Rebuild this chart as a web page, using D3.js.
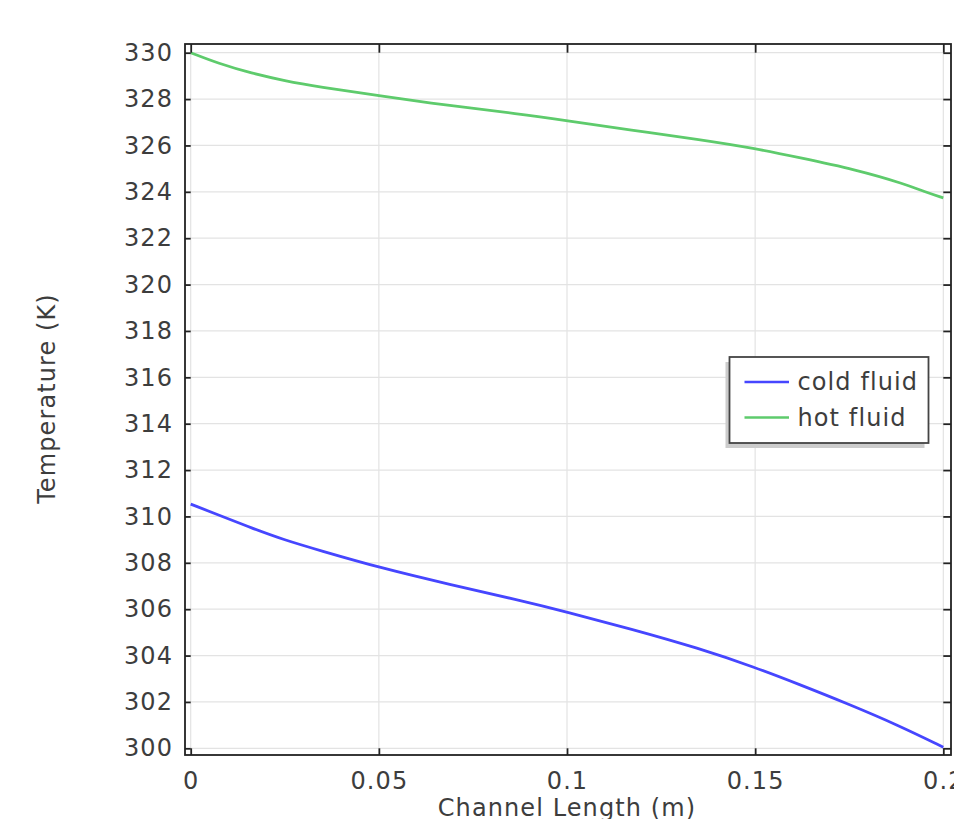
<!DOCTYPE html>
<html>
<head>
<meta charset="utf-8">
<script src="https://cdn.jsdelivr.net/npm/d3@7"></script>
<style>
  html, body { margin: 0; padding: 0; background: #fff; }
  svg { display: block; font-family: "DejaVu Sans", sans-serif; }
</style>
</head>
<body>
<svg id="chart" width="954" height="819"></svg>
<script>
// ---- data ----
const xTicks = [0, 0.05, 0.1, 0.15, 0.2];
const xTickLabels = ["0", "0.05", "0.1", "0.15", "0.2"];
const yTicks = [300, 302, 304, 306, 308, 310, 312, 314, 316, 318, 320, 322, 324, 326, 328, 330];

const hotX = [0, 0.0073, 0.0162, 0.025, 0.034, 0.05, 0.069, 0.087, 0.1, 0.117, 0.135, 0.15, 0.1615, 0.1765, 0.19, 0.195, 0.2];
const hotT = [330.0, 329.54, 329.11, 328.79, 328.53, 328.14, 327.71, 327.37, 327.07, 326.66, 326.26, 325.87, 325.48, 324.97, 324.33, 324.0, 323.74];

const coldX = [0, 0.0073, 0.0162, 0.025, 0.034, 0.05, 0.069, 0.087, 0.1, 0.117, 0.135, 0.15, 0.1615, 0.1748, 0.1881, 0.2];
const coldT = [310.53, 310.07, 309.5, 308.98, 308.55, 307.8, 307.06, 306.40, 305.88, 305.15, 304.32, 303.49, 302.77, 301.91, 300.99, 300.05];

const seriesNames = ["cold fluid", "hot fluid"];
const seriesColors = ["#4646ff", "#5ecb6c"];

// ---- layout ----
const frame = { left: 185, right: 951, top: 44, bottom: 755 };
const plot = { left: 190.7, right: 943.3, top: 52.7, bottom: 748.3 };
const textColor = "#3d3d3d";
const fontSize = 24;
const letterSp = 1.1;

const svg = d3.select("#chart");

const x = d3.scaleLinear().domain([0, 0.2]).range([plot.left, plot.right]);
const y = d3.scaleLinear().domain([300, 330]).range([plot.bottom, plot.top]);

// grid
const grid = svg.append("g").attr("stroke", "#e3e3e3").attr("stroke-width", 1.2);
grid.selectAll("line.v").data(xTicks).join("line")
  .attr("x1", d => x(d)).attr("x2", d => x(d))
  .attr("y1", plot.top).attr("y2", plot.bottom);
grid.selectAll("line.h").data(yTicks).join("line")
  .attr("x1", plot.left).attr("x2", plot.right)
  .attr("y1", d => y(d)).attr("y2", d => y(d));

// curves
const line = d3.line().x(d => x(d[0])).y(d => y(d[1])).curve(d3.curveBasis);
const coldData = coldX.map((v, i) => [v, coldT[i]]);
const hotData = hotX.map((v, i) => [v, hotT[i]]);
svg.append("path").datum(coldData).attr("d", line)
  .attr("fill", "none").attr("stroke", seriesColors[0]).attr("stroke-width", 2.8);
svg.append("path").datum(hotData).attr("d", line)
  .attr("fill", "none").attr("stroke", seriesColors[1]).attr("stroke-width", 2.8);

// axes
function styleAxis(g) {
  g.select(".domain").remove();
  g.selectAll(".tick line").attr("stroke", "#222").attr("stroke-width", 1.8);
  g.selectAll(".tick text").attr("fill", textColor).attr("font-size", fontSize)
    .attr("letter-spacing", letterSp)
    .attr("font-family", "DejaVu Sans, sans-serif");
}
const tl = plot.left - frame.left;
const tb = frame.bottom - plot.bottom;
const tt = plot.top - frame.top;
const tr = frame.right - plot.right;

svg.append("g").attr("transform", `translate(${frame.left},0)`)
  .call(d3.axisLeft(y).tickValues(yTicks).tickSizeInner(-tl).tickSizeOuter(0).tickPadding(12).tickFormat(d3.format("d")))
  .call(styleAxis);
svg.append("g").attr("transform", `translate(${frame.right},0)`)
  .call(d3.axisRight(y).tickValues(yTicks).tickSizeInner(-tr).tickSizeOuter(0).tickFormat(""))
  .call(styleAxis);
svg.append("g").attr("transform", `translate(0,${frame.bottom})`)
  .call(d3.axisBottom(x).tickValues(xTicks).tickSizeInner(-tb).tickSizeOuter(0).tickPadding(17)
    .tickFormat((d, i) => xTickLabels[i]))
  .call(styleAxis);
svg.append("g").attr("transform", `translate(0,${frame.top})`)
  .call(d3.axisTop(x).tickValues(xTicks).tickSizeInner(-tt).tickSizeOuter(0).tickFormat(""))
  .call(styleAxis);

// frame
svg.append("rect")
  .attr("x", frame.left).attr("y", frame.top)
  .attr("width", frame.right - frame.left).attr("height", frame.bottom - frame.top)
  .attr("fill", "none").attr("stroke", "#222").attr("stroke-width", 1.8);

// axis titles
svg.append("text")
  .attr("transform", `translate(47,${(plot.top + plot.bottom) / 2 - 2}) rotate(-90)`)
  .attr("text-anchor", "middle").attr("dy", "0.35em")
  .attr("fill", textColor).attr("font-size", fontSize).attr("letter-spacing", letterSp)
  .text("Temperature (K)");
svg.append("text")
  .attr("x", (plot.left + plot.right) / 2).attr("y", 816)
  .attr("text-anchor", "middle")
  .attr("fill", textColor).attr("font-size", fontSize).attr("letter-spacing", letterSp)
  .text("Channel Length (m)");

// legend
const lg = { x: 729.5, y: 357, w: 199, h: 86 };
svg.append("rect").attr("x", lg.x - 4).attr("y", lg.y + 5).attr("width", lg.w).attr("height", lg.h)
  .attr("fill", "#cccccc");
svg.append("rect").attr("x", lg.x).attr("y", lg.y).attr("width", lg.w).attr("height", lg.h)
  .attr("fill", "#fff").attr("stroke", "#444").attr("stroke-width", 1.8);
const rowY = [382, 417.5];
seriesNames.forEach((name, i) => {
  svg.append("line").attr("x1", 744.5).attr("x2", 789).attr("y1", rowY[i]).attr("y2", rowY[i])
    .attr("stroke", seriesColors[i]).attr("stroke-width", 2.4);
  svg.append("text").attr("x", 797.5).attr("y", rowY[i]).attr("dy", "0.35em")
    .attr("fill", textColor).attr("font-size", fontSize).attr("letter-spacing", letterSp).text(name);
});
</script>
</body>
</html>
